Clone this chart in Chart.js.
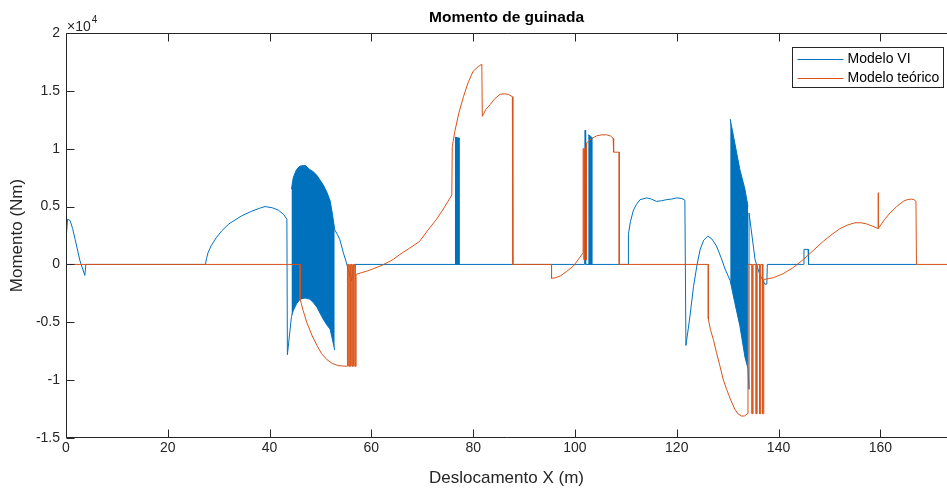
<!DOCTYPE html>
<html>
<head>
<meta charset="utf-8">
<script src="https://cdn.jsdelivr.net/npm/chart.js@4.4.1/dist/chart.umd.min.js"></script>
<style>
  html, body { margin: 0; padding: 0; background: #fff; overflow: hidden; }
</style>
</head>
<body>
<canvas id="momentChart" width="947" height="493"></canvas>
<script>
// values, moment in Nm (axis shows x10^4)
const viX = [0.1, 0.3, 0.8, 1.3, 1.8, 2.75, 3.7, 3.9, 27.4, 27.6, 27.9, 28.5, 29.5, 30.6, 32.0, 34.5, 36.5,
  38.0, 39.1, 40.5, 41.7, 42.8, 43.4, 43.5, 44.3, 44.3, 52.8, 53.3, 53.8, 54.5, 55.1, 55.6, 56.1, 56.6,
  101.9, 102.0, 102.1, 110.5, 110.5, 110.9, 111.5, 112.1, 112.8, 114.1, 115.0, 116.0, 117.0, 118.0, 119.0,
  120.0, 121.0, 121.6, 121.8, 122.5, 123.3, 124.0, 124.6, 125.3, 126.1, 126.9, 127.8, 128.7, 129.5, 130.5,
  130.5, 134.0, 134.2, 134.2, 135.4, 136.3, 137.3, 137.7, 137.8, 144.9, 145.0, 145.8, 145.9, 167.1];
const viY = [2700, 3900, 3800, 3100, 2150, 300, -950, 0, 0, 500, 1000, 1600, 2300, 2900, 3500, 4200, 4600,
  4850, 5000, 4900, 4700, 4300, 3900, -7800, -4500, null, 3000, 2600, 2150, 1000, 150, -700, -1400, 0,
  0, 11600, 0, 0, 2600, 3700, 4700, 5200, 5600, 5750, 5650, 5450, 5500, 5600, 5650,
  5750, 5700, 5550, -7000, -4800, -1900, 0, 1300, 2100, 2450, 2200, 1600, 600, -400, -1400,
  null, -9000, -10800, 4450, 400, -860, -1700, -1700, 0, 0, 1300, 1300, 0, 0];

const teoX = [0, 46.0, 46.0, 46.6, 47.3, 48.3, 49.3, 50.2, 51.2, 52.3, 53.5, 55.1, 55.3, 55.3, 55.6, 55.6,
  55.9, 55.9, 56.2, 56.2, 56.5, 56.5, 56.8, 56.8, 57.0, 57.0, 58.0, 59.1, 60.4, 61.7, 63.0, 64.3, 65.6,
  67.5, 69.5, 71.0, 72.8, 74.3, 75.8, 75.9, 76.4, 77.2, 78.1, 79.0, 80.0, 81.0, 81.7, 81.8, 82.5, 83.3,
  84.3, 85.3, 86.1, 86.9, 87.7, 87.8, 95.4, 95.4, 96.2, 97.1, 98.4, 99.7, 100.7, 101.6, 101.6, 101.8,
  101.8, 102.0, 102.0, 102.2, 102.2, 102.3, 102.3, 103.2, 104.2, 105.2, 106.2, 107.0, 107.5, 107.6, 108.7,
  108.7, 126.2, 126.2, 126.6, 127.2, 127.8, 128.5, 129.1, 129.8, 130.6, 131.4, 132.0, 132.7, 133.3, 133.9,
  134.0, 134.8, 134.8, 135.0, 135.0, 135.6, 135.6, 135.8, 135.8, 136.3, 136.3, 136.5, 136.5, 136.9, 136.9,
  137.1, 137.1, 139.0, 140.9, 142.8, 144.9, 146.8, 148.8, 150.5, 152.1, 153.5, 155.0, 156.2, 157.3, 158.5,
  159.6, 159.6, 159.6, 160.7, 161.9, 163.2, 164.5, 165.3, 166.1, 166.6, 167.0, 167.1, 173.1];
const teoY = [0, 0, -3000, -4000, -5000, -6100, -7000, -7700, -8200, -8550, -8750, -8800, -8800, 0, 0, -8800,
  -8800, 0, 0, -8800, -8800, 0, 0, -8800, -8800, -860, -720, -580, -370, -150, 130, 430, 860,
  1400, 2000, 2900, 3900, 4900, 6000, 10200, 11500, 13100, 14500, 15700, 16700, 17100, 17300, 12800, 13400, 13800,
  14350, 14700, 14750, 14700, 14500, 0, 0, -1200, -1150, -1000, -600, -140, 450, 1000, 10000, 10000,
  400, 400, 10000, 10000, 400, 400, 10500, 10850, 11100, 11200, 11200, 11100, 10900, 9700, 9700,
  0, 0, -4700, -5600, -6500, -7600, -8800, -9900, -10800, -11700, -12500, -12900, -13100, -13100, -12900,
  0, 0, -12900, -12900, 0, 0, -12900, -12900, 0, 0, -12900, -12900, 0, 0, -12900,
  -12900, -1300, -1150, -800, -300, 430, 1200, 2000, 2600, 3100, 3400, 3600, 3600, 3500, 3300,
  3100, 6200, 3100, 3800, 4450, 5000, 5450, 5600, 5650, 5600, 5450, 0, 0];

// dense oscillation bands of Modelo VI (upper / lower envelope)
const band1X = [44.3, 44.65, 45.3, 46.0, 47.0, 47.9, 48.6, 49.3, 49.9, 50.5, 51.2, 51.9, 52.4, 52.8];
const band1Top = [6500, 7500, 8200, 8500, 8550, 8200, 8000, 7700, 7300, 6900, 6300, 5500, 4200, 3000];
const band1Bot = [-4500, -4000, -3400, -3000, -2900, -3000, -3300, -3700, -4200, -4700, -5200, -5600, -6600, -7400];
const band2X = [130.5, 131.4, 132.4, 133.4, 134.0];
const band2Top = [12560, 10500, 8200, 6500, 5000];
const band2Bot = [-1400, -3300, -5300, -8000, -9000];
const band3X = [76.4, 77.4];
const band3Top = [11000, 10900];
const band4X = [102.6, 103.0, 103.5];
const band4Top = [11200, 11100, 10900];

const seriesNames = ["Modelo VI", "Modelo teórico"];
const xTicksMax = 173.1;

const BLUE = "#0072BD";
const ORANGE = "#D95319";
const AXIS = "#262626";
const FONT = "'Liberation Sans', Arial, sans-serif";

function pts(xs, ys) {
  return xs.map((x, i) => ({ x: x, y: ys[i] }));
}

function lineSet(data, color, extra) {
  return Object.assign({
    data: data,
    borderColor: color,
    backgroundColor: color,
    borderWidth: 1,
    pointRadius: 0,
    tension: 0,
    fill: false
  }, extra || {});
}

// MATLAB style box with inward ticks, title, x10^4 and legend
const matlabAxes = {
  id: "matlabAxes",
  afterDatasetsDraw(chart) {
    const ctx = chart.ctx;
    const a = chart.chartArea;
    const xs = chart.scales.x;
    const ys = chart.scales.y;
    const L = Math.round(a.left) + 0.5;
    const T = Math.round(a.top) + 0.5;
    const B = Math.round(a.bottom) - 0.5;
    const tl = 8;

    ctx.save();
    ctx.strokeStyle = AXIS;
    ctx.lineWidth = 1;
    ctx.beginPath();
    ctx.moveTo(a.right + 2, T); ctx.lineTo(L, T); ctx.lineTo(L, B); ctx.lineTo(a.right + 2, B);
    xs.ticks.forEach(t => {
      const p = Math.round(xs.getPixelForValue(t.value)) + 0.5;
      ctx.moveTo(p, B); ctx.lineTo(p, B - tl);
      ctx.moveTo(p, T); ctx.lineTo(p, T + tl);
    });
    ys.ticks.forEach(t => {
      const p = Math.round(ys.getPixelForValue(t.value)) + 0.5;
      ctx.moveTo(L, p); ctx.lineTo(L + tl, p);
    });
    ctx.stroke();

    // title
    ctx.fillStyle = "#000";
    ctx.font = "bold 15.5px " + FONT;
    ctx.textAlign = "center";
    ctx.textBaseline = "middle";
    ctx.fillText("Momento de guinada", (a.left + a.right) / 2, 18);

    // exponent
    ctx.fillStyle = AXIS;
    ctx.textAlign = "left";
    ctx.textBaseline = "alphabetic";
    ctx.font = "14px " + FONT;
    ctx.fillText("\u00d710", a.left + 1, 31);
    const w = ctx.measureText("\u00d710").width;
    ctx.font = "10px " + FONT;
    ctx.fillText("4", a.left + 1 + w + 1, 23);

    // legend
    const lx = a.right - 154.5, ly = a.top + 14.5, lw = 151, lh = 40;
    ctx.fillStyle = "#fff";
    ctx.fillRect(lx, ly, lw, lh);
    ctx.strokeStyle = AXIS;
    ctx.strokeRect(lx, ly, lw, lh);
    const cols = [BLUE, ORANGE];
    ctx.font = "14px " + FONT;
    ctx.textBaseline = "middle";
    seriesNames.forEach((name, i) => {
      const yy = Math.round(ly + 11 + i * 19) + 0.5;
      ctx.strokeStyle = cols[i];
      ctx.beginPath();
      ctx.moveTo(lx + 5, yy); ctx.lineTo(lx + 51, yy);
      ctx.stroke();
      ctx.fillStyle = "#000";
      ctx.fillText(name, lx + 55, yy);
    });
    ctx.restore();
  }
};

const ctx = document.getElementById("momentChart").getContext("2d");
const chart = new Chart(ctx, {
  type: "line",
  data: {
    datasets: [
      lineSet(pts(teoX, teoY), ORANGE, { label: seriesNames[1] }),
      lineSet(pts(viX, viY), BLUE, { label: seriesNames[0] }),
      lineSet(pts(band1X, band1Top), BLUE, { fill: 3 }),
      lineSet(pts(band1X, band1Bot), BLUE),
      lineSet(pts(band2X, band2Top), BLUE, { fill: 5 }),
      lineSet(pts(band2X, band2Bot), BLUE),
      lineSet(pts(band3X, band3Top), BLUE, { fill: "origin" }),
      lineSet(pts(band4X, band4Top), BLUE, { fill: "origin" })
    ]
  },
  options: {
    responsive: false,
    animation: false,
    devicePixelRatio: 1,
    layout: { padding: { top: 33, left: 0, right: 0, bottom: 0 } },
    plugins: {
      legend: { display: false },
      tooltip: { enabled: false }
    },
    scales: {
      x: {
        type: "linear",
        min: 0,
        max: xTicksMax,
        afterFit(scale) { scale.height = 55; },
        grid: { display: false, drawTicks: false },
        border: { display: false },
        ticks: { stepSize: 20, includeBounds: false, color: AXIS, padding: 2, font: { family: FONT, size: 14 } },
        title: { display: true, text: "Deslocamento X (m)", color: AXIS, font: { family: FONT, size: 17 }, padding: { top: 0, bottom: 4 } }
      },
      y: {
        min: -15000,
        max: 20000,
        afterFit(scale) { scale.width = 66; },
        grid: { display: false, drawTicks: false },
        border: { display: false },
        ticks: {
          stepSize: 5000,
          color: AXIS,
          padding: 6,
          font: { family: FONT, size: 14 },
          callback: v => String(v / 10000)
        },
        title: { display: true, text: "Momento (Nm)", color: AXIS, font: { family: FONT, size: 17 }, padding: { top: 7, bottom: 0 } }
      }
    }
  },
  plugins: [matlabAxes]
});
</script>
</body>
</html>
